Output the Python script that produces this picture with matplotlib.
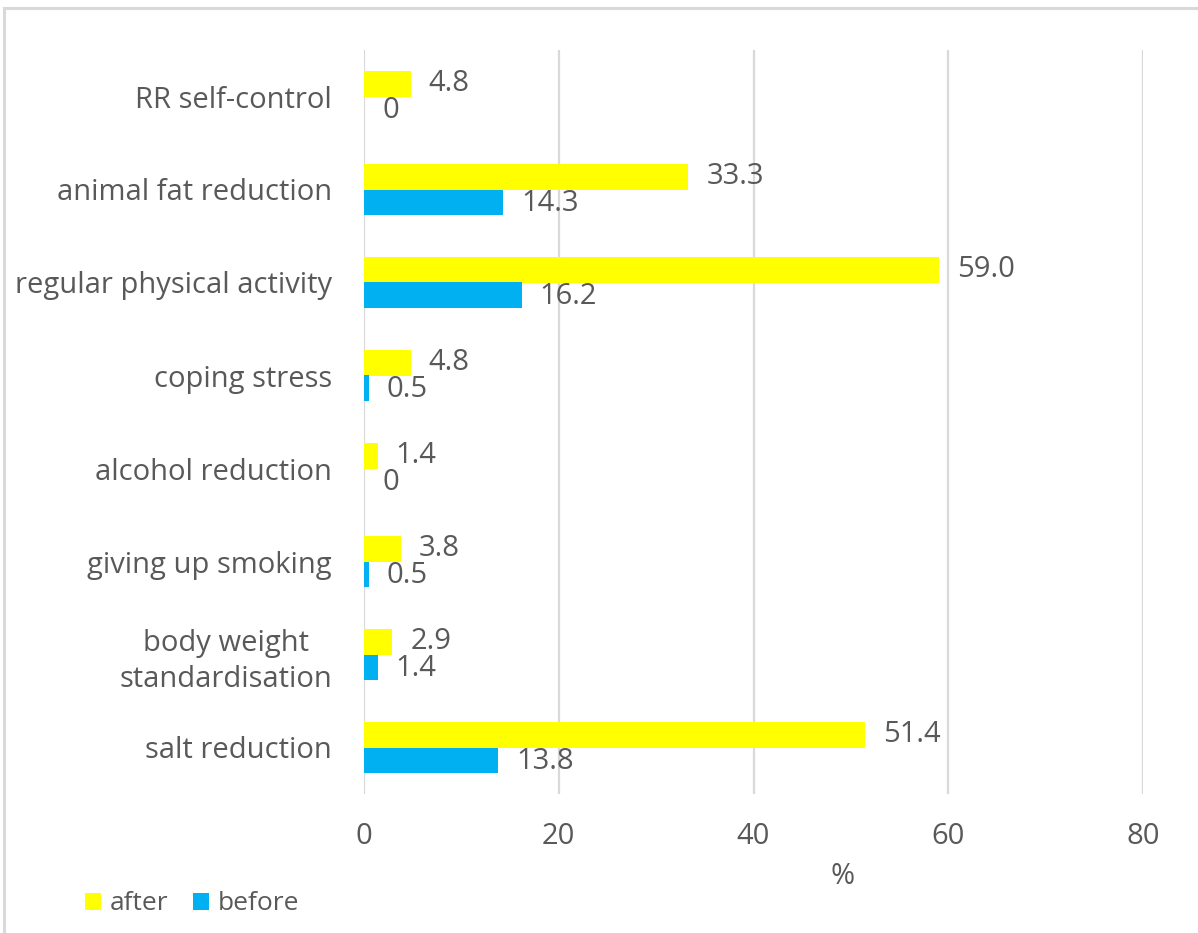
import matplotlib
matplotlib.use("Agg")
import matplotlib.pyplot as plt
from matplotlib.lines import Line2D
import numpy as np

categories = [
    "salt reduction",
    "body weight\nstandardisation",
    "giving up smoking",
    "alcohol reduction",
    "coping stress",
    "regular physical activity",
    "animal fat reduction",
    "RR self-control",
]
after = [51.4, 2.9, 3.8, 1.4, 4.8, 59.0, 33.3, 4.8]
before = [13.8, 1.4, 0.5, 0.0, 0.5, 16.2, 14.3, 0.0]
after_labels = ["51.4", "2.9", "3.8", "1.4", "4.8", "59.0", "33.3", "4.8"]
before_labels = ["13.8", "1.4", "0.5", "0", "0.5", "16.2", "14.3", "0"]
xticks = [0, 20, 40, 60, 80]

TEXT = "#595959"
GRID = "#D9D9D9"
YELLOW = "#FFFF00"
BLUE = "#00B0F0"
FONT = "Open Sans"
FS = 21

plt.rcParams["font.family"] = [FONT, "DejaVu Sans"]

W, H = 1198, 933
fig = plt.figure(figsize=(W / 100, H / 100), dpi=100)
ax = fig.add_axes([364 / W, (H - 794) / H, (1143 - 364) / W, (794 - 50) / H])

y = np.arange(len(categories))
bh = 0.27
ax.barh(y + bh / 2, after, height=bh, color=YELLOW, label="after", zorder=3)
ax.barh(y - bh / 2, before, height=bh, color=BLUE, label="before", zorder=3)

for yi, v, t in zip(y, after, after_labels):
    ax.annotate(t, (v, yi + bh / 2), xytext=(13, 0), textcoords="offset points",
                ha="left", va="center", fontsize=FS, color=TEXT)
for yi, v, t in zip(y, before, before_labels):
    ax.annotate(t, (v, yi - bh / 2), xytext=(13, -1), textcoords="offset points",
                ha="left", va="center", fontsize=FS, color=TEXT)

ax.set_xlim(0, 80)
ax.set_ylim(-0.5, len(categories) - 0.5)
ax.set_xticks(xticks)
ax.set_xticklabels([str(t) for t in xticks], fontsize=FS, color=TEXT)
ax.set_yticks(y)
ax.set_yticklabels(categories, fontsize=FS, color=TEXT, linespacing=1.3)
for lbl in ax.get_yticklabels():
    lbl.set_multialignment("center")
ax.tick_params(axis="both", length=0)
ax.tick_params(axis="x", pad=20)
ax.tick_params(axis="y", pad=23)
ax.xaxis.grid(True, color=GRID, linewidth=1.6, zorder=0)
ax.set_axisbelow(True)
for s in ax.spines.values():
    s.set_visible(False)

ax.set_xlabel("%", fontsize=FS, color=TEXT)
ax.xaxis.set_label_coords((843 - 364) / (1143 - 364), -(876 - 794) / (794 - 50))
ax.xaxis.label.set_va("center")

leg = fig.legend(loc="center left", bbox_to_anchor=(85 / W, (H - 904) / H), ncol=2,
                 frameon=False, fontsize=19, handlelength=0.62, handleheight=0.62,
                 handletextpad=0.3, columnspacing=0.95, borderpad=0, borderaxespad=0,
                 labelcolor=TEXT)

# chart area border (top and left edges)
fig.add_artist(Line2D([4 / W, 1], [1 - 8 / H, 1 - 8 / H], transform=fig.transFigure,
                      color=GRID, linewidth=2.2))
fig.add_artist(Line2D([4 / W, 4 / W], [0, 1 - 8 / H], transform=fig.transFigure,
                      color=GRID, linewidth=2.2))

fig.savefig("out.png", dpi=100)
